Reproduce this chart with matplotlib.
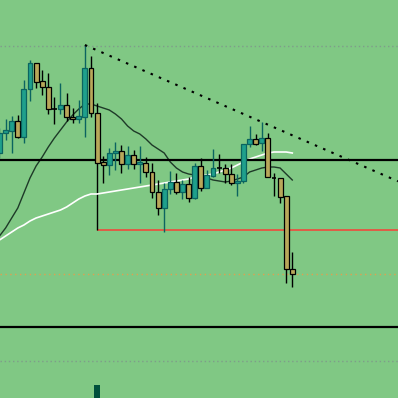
import matplotlib
matplotlib.use("Agg")
import matplotlib.pyplot as plt
import numpy as np

# ---- data (price units) ----
opens  = [245,265,267,277,261,309,335,317,311,289,289,293,281,279,281,330,285,236,233,245,
          247,234,243,234,235,226,206,190,209,216,206,214,200,232,210,222,230,230,224,215,
          217,254,259,255,260,220,220,202,129]
highs  = [270,279,282,283,318,338,335,328,325,301,315,305,290,298,353,342,295,242,250,256,
          253,252,248,252,241,235,218,215,227,225,218,221,235,240,228,249,244,234,234,224,
          254,272,264,276,265,225,220,202,146]
lows   = [240,258,245,260,255,297,310,303,284,274,284,277,275,275,261,281,235,215,223,228,
          225,229,229,215,221,200,183,166,204,204,199,196,199,207,210,221,225,215,213,202,
          215,251,253,247,221,202,195,115,111]
closes = [265,268,277,261,309,335,316,311,289,289,293,281,279,282,330,285,235,233,245,247,
          234,243,234,236,226,206,190,209,216,206,214,200,232,210,223,230,230,224,215,217,
          254,259,254,260,221,220,201,129,124]

ma_dark  = [162,170,180,190,205,220,232,241,251,260,268,276,283,289,294,294,292,290,288,284,
            279,272,267,264,259,253,249,245,236,230,226,224,223,221,220,218,217,216,217,219,
            221,226,228,230,231,231,230,224,218]
ma_white = [158,162,166,170,173,177,180,182,184,186,188,191,195,199,202,204,204,205,206,207,
            208,209,210,211,212,213,214,215,216,217,218,219,221,222,223,224,226,228,230,233,
            236,239,241,243,245,246,246,246,245]

level_top_dotted = 352
level_bottom_dotted = 37
level_black_1 = 238.5
level_black_2 = 71.5
level_red = 168
level_orange = 124
red_start_index = 16
trend_idx = (14, 43)
volume_index = 16
volume_value = 13

BG = "#80c884"
UP = "#1fa08c"
UP_EDGE = "#0b6460"
DN = "#b8a85a"
DN_EDGE = "#000000"

fig = plt.figure(figsize=(3.98, 3.98), dpi=100)
fig.patch.set_facecolor(BG)
ax = fig.add_axes([0, 0, 1, 1])
ax.set_facecolor(BG)
x0, x1 = 0.082, 65.33
ax.set_xlim(x0, x1)
ax.set_ylim(0, 398)
ax.axis("off")

# horizontal levels
ax.axhline(level_top_dotted, color="#7f9c8a", lw=1.0, ls=(0, (1, 2)), zorder=1)
ax.axhline(level_bottom_dotted, color="#7f9c8a", lw=1.0, ls=(0, (1, 2)), zorder=1)
ax.axhline(level_orange, color="#e0a050", lw=1.0, ls=(0, (1, 2.5)), zorder=1)
ax.axhline(level_black_1, color="black", lw=1.6, zorder=4)
ax.axhline(level_black_2, color="black", lw=1.6, zorder=4)
ax.hlines(level_red, red_start_index, x1, color="#f04a3c", lw=1.2, zorder=2)
ax.vlines(red_start_index, level_red, closes[red_start_index], color="black", lw=1.0, zorder=2)

# moving averages
idx = np.arange(len(opens))
ax.plot(idx, ma_white, color="white", lw=1.2, zorder=2)
ax.plot(idx, ma_dark, color="#1e3a28", lw=1.0, zorder=2)

# candles
w = 0.8
for i, (o, h, l, c) in enumerate(zip(opens, highs, lows, closes)):
    if c > o:
        face, edge, wick = UP, UP_EDGE, UP_EDGE
    elif c < o:
        face, edge, wick = DN, DN_EDGE, DN_EDGE
    else:
        face, edge, wick = None, "black", "black"
    ax.vlines(i, l, h, color=wick, lw=1.0, zorder=5)
    if face is None:
        ax.hlines(o, i - w / 2, i + w / 2, color="black", lw=1.2, zorder=6)
    else:
        ax.bar(i, abs(c - o), bottom=min(o, c), width=w, color=face,
               edgecolor=edge, linewidth=0.9, zorder=6)

# trend line through two highs, extended to the right edge
xa, xb = trend_idx
ya, yb = highs[xa], highs[xb]
slope = (yb - ya) / (xb - xa)
ax.plot([xa, x1], [ya, ya + slope * (x1 - xa)], color="black", lw=1.5,
        ls=(0, (1.2, 3.1)), zorder=7)

# volume-like bar
ax.bar(volume_index, volume_value, bottom=0, width=0.95, color="#00503c", zorder=3)

fig.savefig("out.png", dpi=100, facecolor=BG)
